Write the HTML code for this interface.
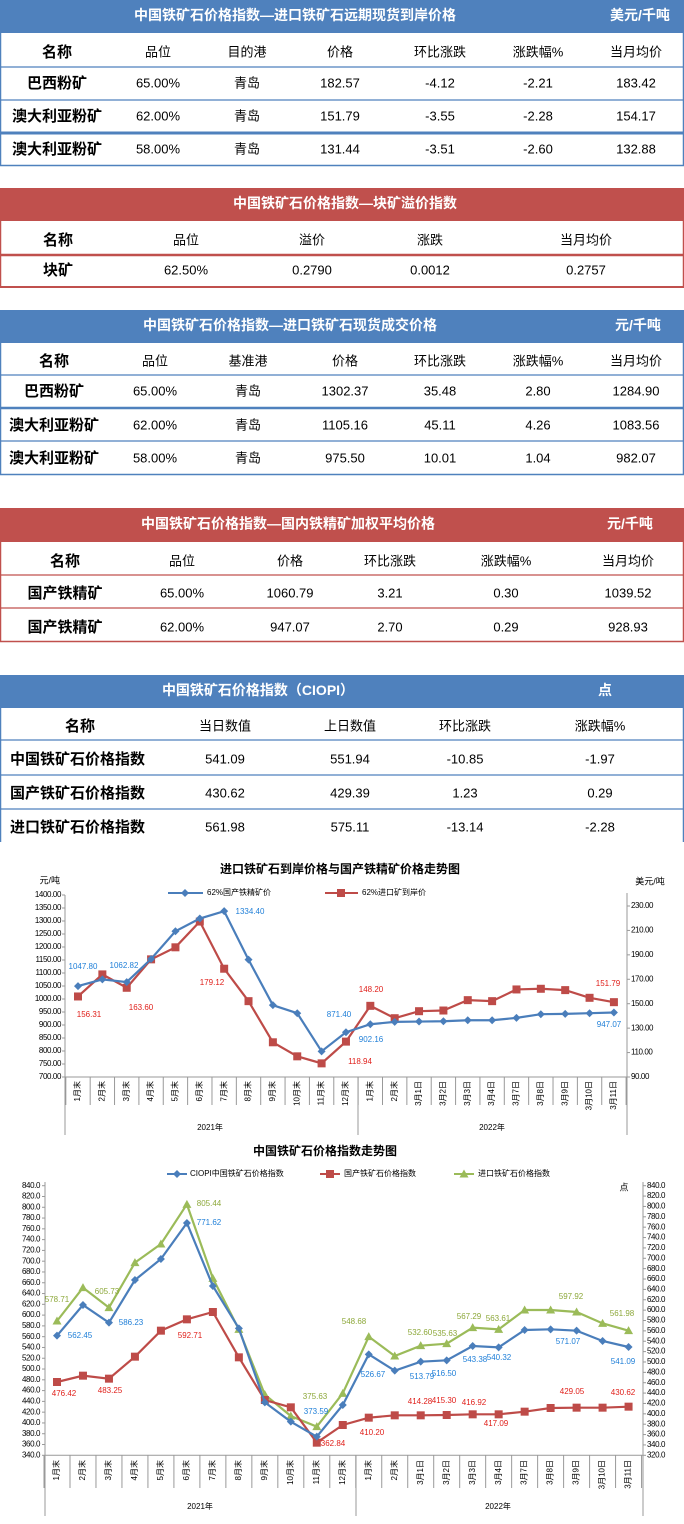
<!DOCTYPE html>
<html><head><meta charset="utf-8"><style>
html,body{margin:0;padding:0;background:#fff;}
svg{display:block;font-family:"Liberation Sans","Noto Sans CJK SC",sans-serif;}
</style></head><body>
<svg id="s" width="684" height="1524" viewBox="0 0 684 1524" xmlns="http://www.w3.org/2000/svg"></svg>
<script>
const S=document.getElementById('s');let h='';
const B='#4f81bd',R='#c0504d';
function t(x,y,s,o){o=o||{};h+=`<text x="${x}" y="${y}" font-size="${o.fs||14}" fill="${o.c||'#000'}" text-anchor="${o.a||'middle'}" ${o.b?'font-weight="bold"':''} dominant-baseline="middle" ${o.tr?`transform="${o.tr}"`:''} ${o.ls?`letter-spacing="${o.ls}"`:''}>${s}</text>`;}
function r(x,y,w,hh,c){h+=`<rect x="${x}" y="${y}" width="${w}" height="${hh}" fill="${c}"/>`;}
function l(x1,y1,x2,y2,c,w){h+=`<line x1="${x1}" y1="${y1}" x2="${x2}" y2="${y2}" stroke="${c}" stroke-width="${w||1}"/>`;}
function table(o){
 r(0,o.y0,684,o.y1-o.y0,o.c);
 t(o.tx,(o.y0+o.y1)/2,o.title,{c:'#fff',b:1,fs:14});
 if(o.unit)t(o.ux,(o.y0+o.y1)/2,o.unit,{c:'#fff',b:1,fs:14});
 l(0.5,o.y1,0.5,o.bot,o.c,1.5);l(683.5,o.y1,683.5,o.bot,o.c,1.5);
 o.lines.forEach(L=>l(0,L[0],684,L[0],o.c,L[1]));
 o.rows.forEach((row,ri)=>{row.forEach((v,ci)=>{
   if(ci==0){ if(o.nameLeft&&ri>0) t(10,o.ry[ri],v,{b:1,fs:15,a:'start'}); else t(o.cx[0],o.ry[ri],v,{b:1,fs:15});}
   else t(o.cx[ci],o.ry[ri],v,{fs:13});
 });});
}
table({y0:0,y1:33,c:B,tx:295,title:'中国铁矿石价格指数—进口铁矿石远期现货到岸价格',ux:640,unit:'美元/千吨',bot:166,
lines:[[67,1.2],[100,1.2],[133,3],[165.5,1.5]],cx:[57,158,247,340,440,538,636],ry:[53,84,117,150],
rows:[['名称','品位','目的港','价格','环比涨跌','涨跌幅%','当月均价'],['巴西粉矿','65.00%','青岛','182.57','-4.12','-2.21','183.42'],['澳大利亚粉矿','62.00%','青岛','151.79','-3.55','-2.28','154.17'],['澳大利亚粉矿','58.00%','青岛','131.44','-3.51','-2.60','132.88']]});
table({y0:188,y1:221,c:R,tx:345,title:'中国铁矿石价格指数—块矿溢价指数',bot:288,
lines:[[255,2.5],[287,2]],cx:[58,186,312,430,586],ry:[241,271],
rows:[['名称','品位','溢价','涨跌','当月均价'],['块矿','62.50%','0.2790','0.0012','0.2757']]});
table({y0:310,y1:343,c:B,tx:290,title:'中国铁矿石价格指数—进口铁矿石现货成交价格',ux:638,unit:'元/千吨',bot:475,
lines:[[375,1.2],[408,2.5],[441,1.2],[474.5,1.5]],cx:[54,155,248,345,440,538,636],ry:[362,392,426,459],
rows:[['名称','品位','基准港','价格','环比涨跌','涨跌幅%','当月均价'],['巴西粉矿','65.00%','青岛','1302.37','35.48','2.80','1284.90'],['澳大利亚粉矿','62.00%','青岛','1105.16','45.11','4.26','1083.56'],['澳大利亚粉矿','58.00%','青岛','975.50','10.01','1.04','982.07']]});
table({y0:508,y1:542,c:R,tx:288,title:'中国铁矿石价格指数—国内铁精矿加权平均价格',ux:630,unit:'元/千吨',bot:642,
lines:[[575,1.2],[608,1.2],[641.5,1.5]],cx:[65,182,290,390,506,628],ry:[562,594,628],
rows:[['名称','品位','价格','环比涨跌','涨跌幅%','当月均价'],['国产铁精矿','65.00%','1060.79','3.21','0.30','1039.52'],['国产铁精矿','62.00%','947.07','2.70','0.29','928.93']]});
table({y0:675,y1:708,c:B,tx:258,title:'中国铁矿石价格指数（CIOPI）',ux:605,unit:'点',bot:842,nameLeft:1,
lines:[[740,1.2],[775,1.2],[809,1.2]],cx:[80,225,350,465,600],ry:[727,760,794,828],
rows:[['名称','当日数值','上日数值','环比涨跌','涨跌幅%'],['中国铁矿石价格指数','541.09','551.94','-10.85','-1.97'],['国产铁矿石价格指数','430.62','429.39','1.23','0.29'],['进口铁矿石价格指数','561.98','575.11','-13.14','-2.28']]});

const cats=['1月末','2月末','3月末','4月末','5月末','6月末','7月末','8月末','9月末','10月末','11月末','12月末','1月末','2月末','3月1日','3月2日','3月3日','3月4日','3月7日','3月8日','3月9日','3月10日','3月11日'];
function marker(x,y,type,c){
 if(type=='d')h+=`<polygon points="${x},${y-4} ${x+4},${y} ${x},${y+4} ${x-4},${y}" fill="${c}"/>`;
 else if(type=='s')h+=`<rect x="${x-4}" y="${y-4}" width="8" height="8" fill="${c}"/>`;
 else h+=`<polygon points="${x},${y-4.5} ${x+4.5},${y+3.5} ${x-4.5},${y+3.5}" fill="${c}"/>`;
}
function series(xs,ys,c,type){h+=`<polyline fill="none" stroke="${c}" stroke-width="2.2" points="${xs.map((x,i)=>x+','+ys[i]).join(' ')}"/>`;xs.forEach((x,i)=>marker(x,ys[i],type,c));}
const BL='#4a7ebb',RL='#be4b48',GL='#9bbb59',BT='#1f7fd8',RT='#e0201b',GT='#8da83a';
{const x0=78,dx=24.36,top=895,bot=1077;
 t(340,870,'进口铁矿石到岸价格与国产铁精矿价格走势图',{b:1,fs:12});
 t(60,881,'元/吨',{fs:9,a:'end'});t(650,882,'美元/吨',{fs:9});
 l(65,top,65,1135,'#999');l(627,893,627,1135,'#999');l(65,bot,627,bot,'#999');
 for(let v=700;v<=1400;v+=50){const y=bot-(v-700)*182/700;t(61,y,v.toFixed(2),{fs:8,a:'end',ls:-0.4});l(62,y,65,y,'#999');}
 for(let v=90;v<=230;v+=20){const y=bot-(v-90)*182/149;t(631,y,v.toFixed(2),{fs:8,a:'start',ls:-0.4});l(627,y,630,y,'#999');}
 for(let i=0;i<=23;i++){const x=x0-dx/2+i*dx;l(x,bot,x,1105,'#999');}
 l(358,bot,358,1135,'#999');
 cats.forEach((c,i)=>{t(x0+i*dx,1081,c,{fs:8,a:'end',tr:`rotate(-90 ${x0+i*dx} 1081)`});});
 t(210,1128,'2021年',{fs:8});t(492,1128,'2022年',{fs:8});
 const xs=cats.map((_,i)=>x0+i*dx);
 const bY=[392,372,380,311,228,190,168,313,449,473,587,530,506,499,498,497,494,494,487,476,475,473,471].map(Y=>855+Y/2.99);
 const rY=[423,357,397,312,276,199,340,437,560,602,623,558,451,488,467,465,434,437,402,400,404,427,440].map(Y=>855+Y/2.99);
 series(xs,rY,RL,'s');series(xs,bY,BL,'d');
 l(168,893,203,893,BL,2);marker(185,893,'d',BL);t(207,893,'62%国产铁精矿价',{fs:8,a:'start'});
 l(325,893,358,893,RL,2);marker(341,893,'s',RL);t(362,893,'62%进口矿到岸价',{fs:8,a:'start'});
 [['1047.80',83,967],['1062.82',124,966],['1334.40',250,912],['871.40',339,1015],['902.16',371,1040],['947.07',609,1025]].forEach(a=>t(a[1],a[2],a[0],{fs:8,c:BT}));
 [['156.31',89,1015],['163.60',141,1008],['179.12',212,983],['148.20',371,990],['118.94',360,1062],['151.79',608,984]].forEach(a=>t(a[1],a[2],a[0],{fs:8,c:RT}));
}
{const x0=57,dx=25.98,top=1185.7,bot=1455.3,k=(bot-top)/500;
 t(325,1152,'中国铁矿石价格指数走势图',{b:1,fs:12});
 l(45,1182,45,1516,'#999');l(643,1182,643,1516,'#999');l(45,bot,643,bot,'#999');
 for(let v=340;v<=840;v+=20){const y=bot-(v-340)*k;t(40,y,v.toFixed(1),{fs:8,a:'end',ls:-0.4});l(42,y,45,y,'#999');}
 for(let v=320;v<=840;v+=20){const y=bot-(v-320)*(bot-top)/520;t(647,y,v.toFixed(1),{fs:8,a:'start',ls:-0.4});l(643,y,646,y,'#999');}
 for(let i=0;i<=23;i++){const x=x0-dx/2+i*dx;l(x,bot,x,1488,'#999');}
 l(356,bot,356,1516,'#999');
 cats.forEach((c,i)=>{t(x0+i*dx,1460,c,{fs:8,a:'end',tr:`rotate(-90 ${x0+i*dx} 1460)`});});
 t(200,1507,'2021年',{fs:8});t(498,1507,'2022年',{fs:8});
 t(624,1188,'点',{fs:9});
 const xs=cats.map((_,i)=>x0+i*dx),cv=Y=>1140+Y/3;
 const bY=[587,495,548,420,357,249,438,565,787,845,890,795,643,692,665,661,618,622,570,568,572,603,621].map(cv);
 const rY=[726,707,716,650,572,538,516,652,780,802,908,855,833,826,826,825,823,823,815,804,803,803,800].map(cv);
 const gY=[543,443,503,368,312,193,415,568,764,828,860,760,590,648,617,611,563,568,510,510,516,550,572].map(cv);
 series(xs,gY,GL,'t');series(xs,rY,RL,'s');series(xs,bY,BL,'d');
 l(167,1174,187,1174,BL,2);marker(177,1174,'d',BL);t(190,1174,'CIOPI中国铁矿石价格指数',{fs:8,a:'start'});
 l(320,1174,340,1174,RL,2);marker(330,1174,'s',RL);t(344,1174,'国产铁矿石价格指数',{fs:8,a:'start'});
 l(454,1174,474,1174,GL,2);marker(464,1174,'t',GL);t(478,1174,'进口铁矿石价格指数',{fs:8,a:'start'});
 [['578.71',57,1300],['605.73',107,1292],['805.44',209,1204],['375.63',315,1397],['548.68',354,1322],['532.60',420,1333],['535.63',445,1334],['567.29',469,1317],['563.61',498,1319],['597.92',571,1297],['561.98',622,1314]].forEach(a=>t(a[1],a[2],a[0],{fs:8,c:GT}));
 [['562.45',80,1336],['586.23',131,1323],['771.62',209,1223],['373.59',316,1412],['526.67',373,1375],['513.79',422,1377],['516.50',444,1374],['543.38',475,1360],['540.32',499,1358],['571.07',568,1342],['541.09',623,1362]].forEach(a=>t(a[1],a[2],a[0],{fs:8,c:BT}));
 [['476.42',64,1394],['483.25',110,1391],['592.71',190,1336],['362.84',333,1444],['410.20',372,1433],['414.28',420,1402],['415.30',444,1401],['416.92',474,1403],['417.09',496,1424],['429.05',572,1392],['430.62',623,1393]].forEach(a=>t(a[1],a[2],a[0],{fs:8,c:RT}));
}
S.innerHTML=h;
</script>
</body></html>
